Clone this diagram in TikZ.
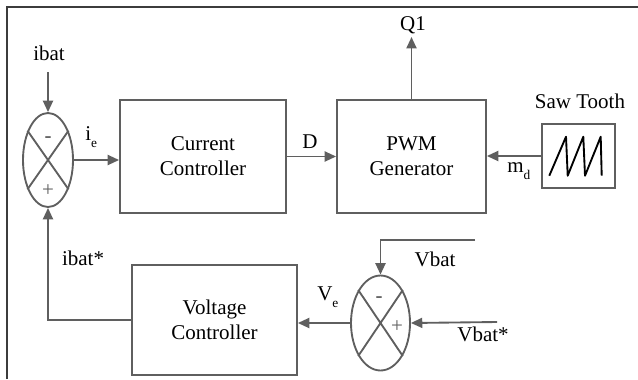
\documentclass[tikz,border=0pt]{standalone}
\usepackage{fontspec}
\setmainfont{Liberation Serif}
\usetikzlibrary{arrows.meta,shapes.geometric}
\definecolor{linec}{RGB}{95,95,95}
\definecolor{framec}{RGB}{60,60,60}
\newcommand\lsub[1]{\raisebox{-5.5pt}{\fontsize{10}{10}\selectfont #1}}
\begin{document}
\begin{tikzpicture}[x=0.75pt,y=-0.75pt,
  lbl/.style={font=\fontsize{15.75}{18.75}\selectfont, inner sep=0pt},
  blk/.style={draw=linec, line width=1.4pt, font=\fontsize{15.75}{18.75}\selectfont, align=center, inner sep=0pt},
  sumc/.style={ellipse, draw=linec, line width=1.4pt, inner sep=0pt},
  sgn/.style={font=\fontsize{15.75}{18}\selectfont, text=linec, inner sep=0pt},
  conn/.style={draw=linec, line width=1.4pt},
  arr/.style={draw=linec, line width=1.4pt, -{Triangle[length=8.5pt,width=7.5pt]}}]
\useasboundingbox (0,0) rectangle (638,379);
% frame
\draw[framec, line width=1.2pt] (7,379) -- (7,7) -- (638,7);
% blocks
\node[blk, minimum width=124.5pt, minimum height=84.75pt] (cc) at (203,156.5) {Current\\Controller};
\node[blk, minimum width=111.75pt, minimum height=84.75pt] (pwm) at (411.5,156.5) {PWM\\Generator};
\node[blk, minimum width=54.75pt, minimum height=48pt] (saw) at (578.5,156) {};
\node[blk, minimum width=123.75pt, minimum height=82.5pt] (vc) at (214.5,320) {Voltage\\Controller};
% summing junctions
\node[sumc, minimum width=37.5pt, minimum height=70.5pt] (s1) at (48,160) {};
\node[sumc, minimum width=44.25pt, minimum height=71.25pt] (s2) at (380.5,323) {};
\draw[conn] (s1.125) -- (s1.-55) (s1.55) -- (s1.-125);
\draw[conn] (s2.124) -- (s2.-56) (s2.56) -- (s2.-124);
\node[sgn] (s1m) at (48,140) {\bfseries -};
\node[sgn] (s1p) at (48,191) {+};
\node[sgn] (s2m) at (379,300) {\bfseries -};
\node[sgn] (s2p) at (397,327) {+};
% sawtooth
\draw[black, line width=1.4pt, line join=round]
  (549.3,175.7) -- (566,136.7) -- (567.7,175.7) -- (583.3,136.7) -- (585,175.7) -- (600.7,136.7) -- (601.7,175.7);
% free ends
\coordinate (ibatin) at (48,72);
\coordinate (q1out) at (411.5,37);
\coordinate (vbatin) at (475,240);
\coordinate (vbatsin) at (497,322);
% connectors
\draw[arr] (ibatin) -- (s1.north);
\draw[arr] (s1.east) -- (cc.west |- s1.east);
\draw[arr] (cc.east) -- (pwm.west);
\draw[arr] (saw.west) -- (pwm.east |- saw.west);
\draw[arr] (pwm.north) -- (q1out);
\draw[arr] (vbatin) -| (s2.north);
\draw[arr] (vbatsin) -- (s2.east);
\draw[arr] (s2.west) -- (vc.east |- s2.west);
\draw[arr] (vc.west) -| (s1.south);
% labels
\node[lbl, anchor=base] (libat) at (49,60) {ibat};
\node[lbl, anchor=base west] (lie) at (85,140) {i\lsub{e}};
\node[lbl, anchor=base] (ld) at (310,148) {D};
\node[lbl, anchor=base] (lq1) at (413,30) {Q1};
\node[lbl, anchor=base] (lsaw) at (580,108) {Saw Tooth};
\node[lbl, anchor=base west] (lmd) at (507,172) {m\lsub{d}};
\node[lbl, anchor=base] (libats) at (83,265) {ibat*};
\node[lbl, anchor=base] (lvbat) at (435,266) {Vbat};
\node[lbl, anchor=base] (lvbats) at (483,341) {Vbat*};
\node[lbl, anchor=base west] (lve) at (317,300) {V\lsub{e}};
\end{tikzpicture}
\end{document}
